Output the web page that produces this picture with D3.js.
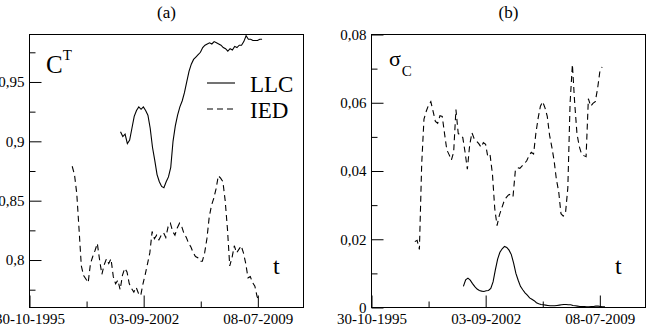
<!DOCTYPE html>
<html>
<head>
<meta charset="utf-8">
<script src="https://cdn.jsdelivr.net/npm/d3@7"></script>
<style>
  body { margin: 0; background: #fff; }
  svg { display: block; }
  svg text { font-family: "Liberation Serif", "DejaVu Serif", "Times New Roman", serif; fill: #000; }
</style>
</head>
<body>
<svg id="chart" width="648" height="329"></svg>
<script>
// x is days counted from 30-10-1995, every series sampled every 50 days
const xDomainDays = [0, 6000];
const xMajorTicks = [0, 2500, 5000];
const xMinorTicks = [1250, 3750];
const xTickLabels = ["30-10-1995", "03-09-2002", "08-07-2009"];
const stepDays = 50;

const corrMajorTicks = [0.8, 0.85, 0.9, 0.95];
const corrMinorTicks = [0.775, 0.825, 0.875, 0.925, 0.975];
const sigmaMajorTicks = [0, 0.02, 0.04, 0.06, 0.08];
const sigmaMinorTicks = [0.01, 0.03, 0.05, 0.07];

const legendNames = ["LLC", "IED"];

// panel (a): C^T
const corrIedStart = 935;
const corrIed = [
    0.879, 0.872, 0.856, 0.826, 0.795, 0.787, 0.784, 0.781, 0.797, 0.803,
    0.808, 0.814, 0.800, 0.788, 0.796, 0.801, 0.797, 0.801, 0.786, 0.780,
    0.783, 0.775, 0.787, 0.793, 0.790, 0.780, 0.776, 0.773, 0.777, 0.772,
    0.770, 0.780, 0.788, 0.797, 0.806, 0.824, 0.818, 0.821, 0.817, 0.821,
    0.823, 0.819, 0.828, 0.831, 0.824, 0.821, 0.827, 0.831, 0.828, 0.822,
    0.819, 0.814, 0.811, 0.806, 0.803, 0.802, 0.799, 0.799, 0.806, 0.818,
    0.836, 0.846, 0.852, 0.860, 0.871, 0.869, 0.866, 0.850, 0.826, 0.795,
    0.802, 0.812, 0.806, 0.809, 0.812, 0.806, 0.797, 0.785, 0.786, 0.781,
    0.778, 0.769, 0.766
];
const corrLlcStart = 1993;
const corrLlc = [
    0.908, 0.904, 0.906, 0.898, 0.901, 0.911, 0.921, 0.926, 0.929, 0.927,
    0.929, 0.926, 0.922, 0.911, 0.895, 0.884, 0.872, 0.866, 0.862, 0.861,
    0.866, 0.870, 0.878, 0.900, 0.913, 0.922, 0.929, 0.934, 0.941, 0.950,
    0.959, 0.965, 0.969, 0.971, 0.973, 0.975, 0.979, 0.981, 0.982, 0.983,
    0.982, 0.984, 0.983, 0.982, 0.981, 0.979, 0.978, 0.976, 0.978, 0.977,
    0.980, 0.979, 0.981, 0.981, 0.984, 0.989, 0.986, 0.986, 0.985, 0.985,
    0.985, 0.986, 0.986
];

// panel (b): sigma_C
const sigmaIedStart = 949;
const sigmaIed = [
    0.0193, 0.0197, 0.0170, 0.0420, 0.0552, 0.0575, 0.0593, 0.0603, 0.0575, 0.0545,
    0.0540, 0.0562, 0.0560, 0.0510, 0.0462, 0.0448, 0.0432, 0.0455, 0.0580, 0.0510,
    0.0505, 0.0498, 0.0455, 0.0405, 0.0475, 0.0512, 0.0495, 0.0488, 0.0480, 0.0470,
    0.0483, 0.0478, 0.0440, 0.0445, 0.0390, 0.0290, 0.0240, 0.0270, 0.0290, 0.0310,
    0.0322, 0.0330, 0.0332, 0.0325, 0.0400, 0.0410, 0.0408, 0.0415, 0.0422, 0.0430,
    0.0445, 0.0455, 0.0450, 0.0510, 0.0555, 0.0590, 0.0603, 0.0585, 0.0560, 0.0505,
    0.0470, 0.0430, 0.0375, 0.0340, 0.0275, 0.0268, 0.0278, 0.0350, 0.0600, 0.0712,
    0.0600, 0.0510, 0.0472, 0.0450, 0.0445, 0.0442, 0.0612, 0.0590, 0.0598, 0.0603,
    0.0640, 0.0690, 0.0705
];
const sigmaLlcStart = 2012;
const sigmaLlc = [
    0.0062, 0.0081, 0.0086, 0.0080, 0.0070, 0.0061, 0.0054, 0.0050, 0.0048, 0.0047,
    0.0049, 0.0050, 0.0056, 0.0075, 0.0110, 0.0142, 0.0162, 0.0172, 0.0179, 0.0176,
    0.0168, 0.0155, 0.0130, 0.0100, 0.0080, 0.0062, 0.0052, 0.0043, 0.0036, 0.0028,
    0.0024, 0.0020, 0.0014, 0.0011, 0.0009, 0.0008, 0.0007, 0.0006, 0.0005, 0.0005,
    0.0005, 0.0006, 0.0007, 0.0008, 0.0009, 0.0009, 0.0008, 0.0008, 0.0006, 0.0005,
    0.0004, 0.0003, 0.0003, 0.0003, 0.0002, 0.0002, 0.0003, 0.0003, 0.0004, 0.0004,
    0.0003, 0.0002, 0.0002
];

const svg = d3.select("#chart");

// comma as decimal mark, like the original
function commaFormat(v) {
    return v === 0 ? "0" : String(+v.toFixed(3)).replace(".", ",");
}

function drawPanel(p) {
    const x = d3.scaleLinear().domain(xDomainDays).range([p.left, p.left + 274]);
    const y = d3.scaleLinear().domain(p.yDomain).range([307.5, 34.5]);
    const g = svg.append("g");

    // minor ticks first, no labels
    g.append("g")
        .attr("transform", "translate(0,307.5)")
        .call(d3.axisBottom(x).tickValues(xMinorTicks).tickSizeInner(-6).tickSizeOuter(0).tickFormat(""))
        .call(a => a.select(".domain").remove());
    g.append("g")
        .attr("transform", `translate(${p.left},0)`)
        .call(d3.axisLeft(y).tickValues(p.minorTicks).tickSizeInner(-6).tickSizeOuter(0).tickFormat(""))
        .call(a => a.select(".domain").remove());

    g.append("g")
        .attr("transform", "translate(0,307.5)")
        .call(d3.axisBottom(x).tickValues(xMajorTicks).tickSizeInner(-12).tickSizeOuter(0).tickPadding(6)
            .tickFormat((d, i) => xTickLabels[i]))
        .call(a => a.select(".domain").remove());
    g.append("g")
        .attr("transform", `translate(${p.left},0)`)
        .call(d3.axisLeft(y).tickValues(p.majorTicks).tickSizeInner(-12).tickSizeOuter(0).tickPadding(5)
            .tickFormat(commaFormat))
        .call(a => a.select(".domain").remove());

    g.selectAll(".tick line").attr("stroke", "#000");
    g.selectAll(".tick text").attr("font-size", 15);

    g.append("rect")
        .attr("x", p.left)
        .attr("y", 34.5)
        .attr("width", 274)
        .attr("height", 273)
        .attr("fill", "none")
        .attr("stroke", "#000");

    const lineFor = start => d3.line()
        .x((d, i) => x(start + i * stepDays))
        .y(d => y(d));

    g.append("path")
        .attr("d", lineFor(p.iedStart)(p.ied))
        .attr("fill", "none")
        .attr("stroke", "#000")
        .attr("stroke-width", 1.1)
        .attr("stroke-dasharray", "6,4");
    g.append("path")
        .attr("d", lineFor(p.llcStart)(p.llc))
        .attr("fill", "none")
        .attr("stroke", "#000")
        .attr("stroke-width", 1.1);

    g.append("text")
        .attr("x", p.left + 137)
        .attr("y", 18)
        .attr("text-anchor", "middle")
        .attr("font-size", 17)
        .text(p.title);

    g.append("text")
        .attr("x", p.left + 243.5)
        .attr("y", 274)
        .attr("font-size", 24)
        .text("t");

    return g;
}

const ga = drawPanel({
    left: 29.5, title: "(a)", yDomain: [0.76, 0.99],
    majorTicks: corrMajorTicks, minorTicks: corrMinorTicks,
    iedStart: corrIedStart, ied: corrIed, llcStart: corrLlcStart, llc: corrLlc
});
const gb = drawPanel({
    left: 371.5, title: "(b)", yDomain: [0, 0.08],
    majorTicks: sigmaMajorTicks, minorTicks: sigmaMinorTicks,
    iedStart: sigmaIedStart, ied: sigmaIed, llcStart: sigmaLlcStart, llc: sigmaLlc
});

// C^T
const ct = ga.append("text")
    .attr("x", 46)
    .attr("y", 73)
    .attr("font-size", 25);
ct.append("tspan").text("C");
ct.append("tspan").attr("font-size", 15).attr("dy", -13).text("T");

// sigma_C
const sc = gb.append("text")
    .attr("x", 389)
    .attr("y", 66)
    .attr("font-size", 22);
sc.append("tspan").text("σ");
sc.append("tspan").attr("font-size", 15).attr("dx", 1).attr("dy", 10).text("C");

// legend in panel (a)
const legend = ga.append("g")
    .selectAll("g")
    .data(legendNames)
    .join("g")
    .attr("transform", (d, i) => `translate(207,${83 + i * 26})`);
legend.append("line")
    .attr("x1", 0)
    .attr("x2", 28)
    .attr("stroke", "#000")
    .attr("stroke-width", 1.1)
    .attr("stroke-dasharray", (d, i) => i ? "6,4" : null);
legend.append("text")
    .attr("x", 43)
    .attr("y", 8.5)
    .attr("font-size", 23)
    .text(d => d);
</script>
</body>
</html>
